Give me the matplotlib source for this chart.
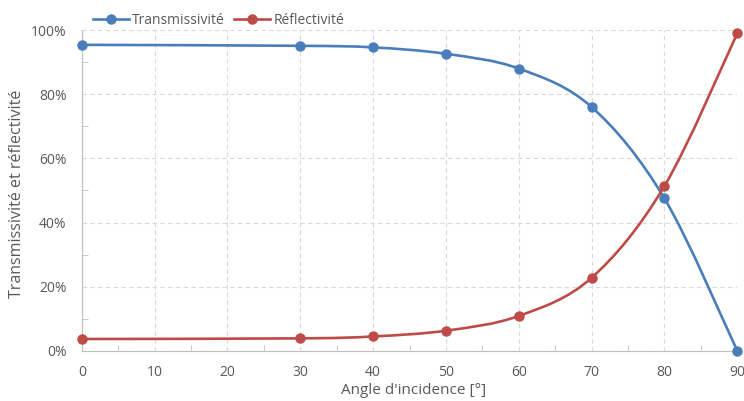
import numpy as np
import matplotlib.pyplot as plt
from matplotlib.path import Path
from matplotlib.patches import PathPatch
from matplotlib.lines import Line2D
from matplotlib.ticker import MultipleLocator, PercentFormatter

plt.rcParams['font.family'] = ['Open Sans', 'DejaVu Sans']

# angle d'incidence (deg) and values (%)
angle = [0, 30, 40, 50, 60, 70, 80, 90]
trans = [95.4, 95.1, 94.6, 92.6, 88.0, 76.0, 47.5, 0.0]
refl = [3.7, 3.9, 4.5, 6.3, 10.9, 22.8, 51.4, 99.0]

blue = '#4A7EBB'
red = '#BE4B48'
grey = '#595959'


def smooth_path(x, y):
    # cubic bezier through the points (same idea as Excel "smoothed line")
    x = np.asarray(x, float)
    y = np.asarray(y, float)
    n = len(x)
    verts = [(x[0], y[0])]
    codes = [Path.MOVETO]
    for i in range(n - 1):
        i0 = max(i - 1, 0)
        i3 = min(i + 2, n - 1)
        c1 = (x[i] + (x[i + 1] - x[i0]) / 6, y[i] + (y[i + 1] - y[i0]) / 6)
        c2 = (x[i + 1] - (x[i3] - x[i]) / 6, y[i + 1] - (y[i3] - y[i]) / 6)
        verts += [c1, c2, (x[i + 1], y[i + 1])]
        codes += [Path.CURVE4] * 3
    return Path(verts, codes)


fig = plt.figure(figsize=(7.44, 4.01), dpi=100)
ax = fig.add_axes([0.110, 0.125, 0.881, 0.800])

for vals, col in [(trans, blue), (refl, red)]:
    ax.add_patch(PathPatch(smooth_path(angle, vals), fill=False, edgecolor=col,
                           lw=1.9, clip_on=False, zorder=3))
    ax.plot(angle, vals, 'o', color=col, ms=6.5, clip_on=False, zorder=4)

ax.set_xlim(0, 90)
ax.set_ylim(0, 100)
ax.xaxis.set_major_locator(MultipleLocator(10))
ax.xaxis.set_minor_locator(MultipleLocator(5))
ax.yaxis.set_major_locator(MultipleLocator(20))
ax.yaxis.set_minor_locator(MultipleLocator(10))
ax.yaxis.set_major_formatter(PercentFormatter(decimals=0))

ax.grid(True, which='major', color='#D9D9D9', ls=(0, (4, 3)), lw=0.8)
ax.set_axisbelow(True)
for s in ['top', 'right']:
    ax.spines[s].set_visible(False)
for s in ['left', 'bottom']:
    ax.spines[s].set_color('#BFBFBF')
ax.tick_params(axis='both', which='major', length=0, labelsize=10,
               labelcolor=grey)
ax.tick_params(axis='x', which='major', pad=10)
ax.tick_params(axis='y', which='major', pad=11)
ax.tick_params(axis='x', which='minor', direction='in', length=4,
               color='#BFBFBF', bottom=True)
ax.tick_params(axis='y', which='minor', direction='in', length=4,
               color='#BFBFBF', left=True)

fig.text(0.5555, 1 - 391 / 401, "Angle d'incidence [°]", fontsize=11,
         color=grey, ha='center', va='center')
fig.text(17 / 744, 0.516, 'Transmissivité et réflectivité', fontsize=11.5,
         color=grey, rotation=90, ha='center', va='center')

handles = [Line2D([], [], color=blue, lw=1.9, marker='o', ms=6.5),
           Line2D([], [], color=red, lw=1.9, marker='o', ms=6.5)]
fig.legend(handles, ['Transmissivité', 'Réflectivité'], loc='center left',
           bbox_to_anchor=(0.125, 0.948), ncol=2, frameon=False, fontsize=10,
           labelcolor=grey, handlelength=2.6, handletextpad=0.2,
           columnspacing=0.7, borderpad=0, borderaxespad=0)

fig.savefig('out.png', dpi=100)
